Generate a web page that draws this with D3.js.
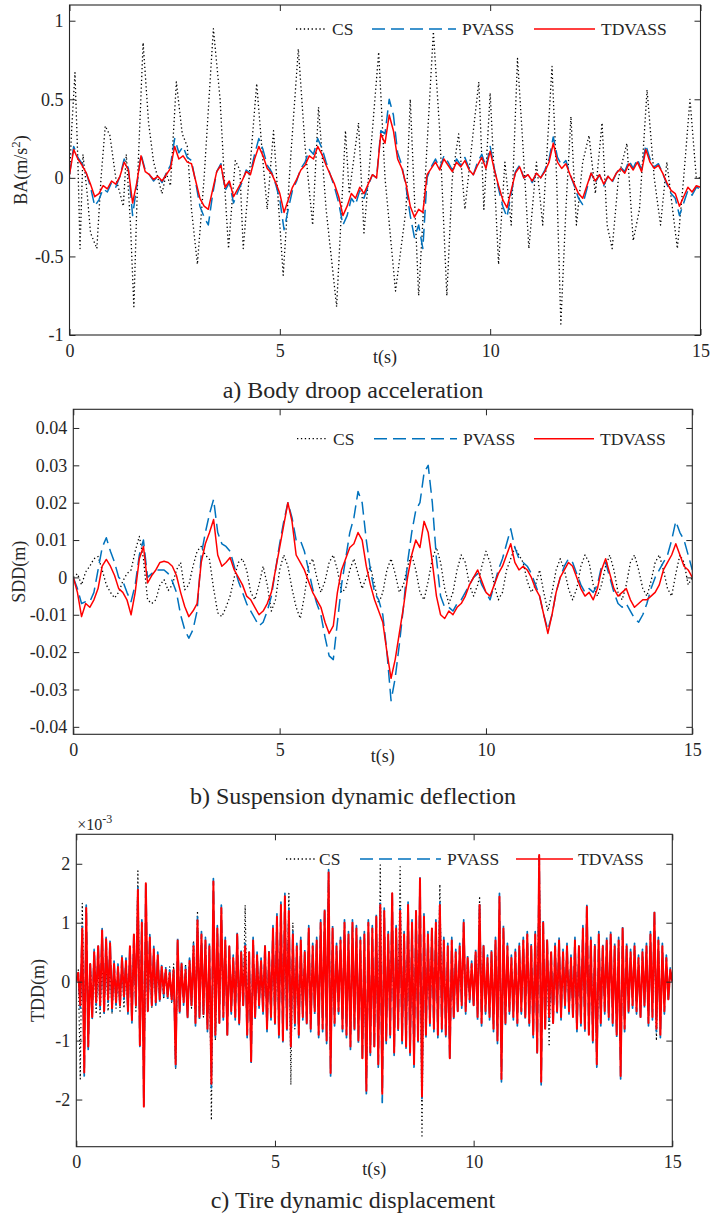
<!DOCTYPE html>
<html>
<head>
<meta charset="utf-8">
<title>Suspension responses</title>
<script src="https://d3js.org/d3.v7.min.js"></script>
<style>
	body { margin: 0; background: #fff; }
	text { font-family: "Liberation Serif", "Times New Roman", serif; fill: #262626; }
	.axis line { stroke: #262626; }
	.axis path { display: none; }
</style>
</head>
<body>
<svg id="chart" width="710" height="1220"></svg>
<script>
// ---------- panel a : body acceleration (m/s^2), TDVASS / PVASS sampled every 0.1 s ----------
var aTD = [0.02,0.18,0.12,0.08,0.03,-0.04,-0.12,-0.1,-0.05,-0.07,
	-0.02,-0.04,0.01,0.1,0.05,-0.16,-0.03,0.14,0.04,0.02,
	-0.01,0.01,-0.02,0.02,0.06,0.2,0.12,0.14,0.1,0.09,
	-0.02,-0.13,-0.18,-0.2,-0.08,0.04,0.08,-0.06,-0.02,-0.12,
	-0.07,-0.02,0.04,0.02,0.12,0.2,0.14,0.06,0.03,-0.03,
	-0.1,-0.22,-0.14,-0.06,-0.01,0.05,0.08,0.14,0.12,0.2,
	0.15,0.08,0.02,-0.04,-0.12,-0.24,-0.18,-0.1,-0.13,-0.06,
	-0.1,-0.04,0.02,0,0.28,0.22,0.4,0.3,0.12,0.06,
	-0.04,-0.18,-0.25,-0.2,-0.22,0.02,0.06,0.1,0.05,0.12,
	0.08,0.04,0.1,0.07,0.11,0.05,0.02,0.08,0.13,0.06,
	0.17,0.05,-0.05,-0.14,-0.19,-0.08,0.03,0.07,0,0.02,
	-0.02,0.03,0,0.04,0.1,0.22,0.1,0.06,0.09,0.02,
	-0.04,-0.1,-0.13,-0.05,0.03,-0.02,0.02,-0.04,0.01,-0.02,
	0.03,0.06,0.03,0.09,0.05,0.1,0.04,0.18,0.1,0.06,
	0.08,0.03,-0.03,-0.08,-0.1,-0.18,-0.12,-0.06,-0.09,-0.05,-0.06];
var aPV = [0.02,0.2,0.13,0.09,0.03,-0.06,-0.18,-0.14,-0.07,-0.09,
	-0.03,-0.06,0.01,0.12,0.06,-0.24,-0.05,0.15,0.05,0.02,
	-0.02,0.01,-0.03,0.03,0.08,0.25,0.16,0.2,0.13,0.11,
	-0.03,-0.18,-0.25,-0.3,-0.11,0.04,0.09,-0.08,-0.03,-0.16,
	-0.09,-0.03,0.05,0.03,0.15,0.25,0.18,0.08,0.04,-0.04,
	-0.14,-0.33,-0.2,-0.08,-0.02,0.06,0.1,0.18,0.15,0.25,
	0.19,0.1,0.02,-0.06,-0.16,-0.3,-0.24,-0.13,-0.17,-0.08,
	-0.13,-0.05,0.02,0,0.3,0.28,0.5,0.4,0.16,0.08,
	-0.06,-0.24,-0.38,-0.3,-0.45,0,0.07,0.12,0.06,0.14,
	0.1,0.05,0.12,0.08,0.13,0.06,0.02,0.1,0.15,0.07,
	0.2,0.06,-0.07,-0.18,-0.25,-0.1,0.04,0.08,0,0.02,
	-0.03,0.03,0,0.05,0.12,0.26,0.13,0.08,0.11,0.02,
	-0.05,-0.13,-0.17,-0.07,0.03,-0.03,0.02,-0.05,0.01,-0.03,
	0.03,0.07,0.04,0.11,0.06,0.12,0.05,0.21,0.12,0.07,
	0.09,0.03,-0.04,-0.1,-0.13,-0.24,-0.16,-0.08,-0.11,-0.06,-0.07];
// CS in panel a, read as turning points (time, value)
var aCST = [0,0.05,0.13,0.2,0.25,0.32,0.42,0.5,0.65,0.75,0.85,0.96,1.1,1.28,1.35,1.45,1.53,1.62,1.75,1.88,
	2.0,2.2,2.3,2.4,2.54,2.68,2.8,2.9,3.04,3.2,3.42,3.58,3.7,3.78,3.94,4.05,4.13,4.3,4.45,4.6,
	4.7,4.85,5.08,5.25,5.44,5.6,5.78,5.92,6.1,6.35,6.56,6.65,6.87,7.0,7.2,7.35,7.5,7.75,8.0,8.1,
	8.3,8.65,8.8,8.97,9.1,9.25,9.4,9.6,9.73,9.85,10.0,10.2,10.35,10.5,10.65,10.78,10.92,11.1,11.25,11.47,
	11.58,11.68,11.8,11.92,12.05,12.2,12.35,12.5,12.66,12.78,12.9,13.05,13.25,13.4,13.55,13.73,13.9,14.05,14.2,14.45,
	14.6,14.75,14.9,15];
var aCSV = [0,0.3,0.67,0.1,-0.45,0.15,-0.1,-0.35,-0.45,0,0.33,0.27,0,-0.18,0.15,-0.3,-0.82,0,0.86,0.35,
	0.1,-0.1,0.03,-0.05,0.61,0.28,0.2,-0.2,-0.55,0,0.95,0.5,-0.1,-0.45,0.11,0.05,-0.45,0.1,0.6,0.1,
	-0.2,0.3,-0.62,0.1,0.82,0.2,-0.3,0.45,-0.2,-0.82,0.3,-0.1,0.35,-0.35,0.3,0.8,0,-0.72,-0.2,0.5,
	-0.75,0.93,0.3,-0.75,0,0.28,-0.2,0.3,0.61,-0.2,0.54,-0.55,0.1,-0.3,0.76,0.2,-0.45,0.1,-0.3,0.71,
	0,-0.93,-0.2,0.39,-0.3,0.1,0.27,-0.1,0.35,-0.3,-0.45,0,0.22,-0.4,-0.2,0.56,0,-0.3,0.1,-0.45,
	0,0.5,0,0];

// ---------- panel b : suspension deflection (m), sampled every 0.1 s ----------
var bTD = [0,-0.004,-0.0105,-0.007,-0.008,-0.006,-0.003,0.003,0.0048,0.003,
	0.0005,-0.003,-0.004,-0.006,-0.01,-0.004,0.005,0.0083,-0.0015,0.0005,
	0.002,0.004,0.0043,0.004,0.003,0.0005,-0.004,-0.0078,-0.0105,-0.009,
	-0.007,0.004,0.009,0.012,0.0155,0.006,0.003,0.004,0.0053,0.002,
	0,-0.002,-0.005,-0.006,-0.008,-0.01,-0.009,-0.007,-0.004,0.002,
	0.008,0.014,0.02,0.015,0.006,0.004,0.002,-0.001,-0.004,-0.006,
	-0.008,-0.012,-0.015,-0.013,-0.004,0.002,0.005,0.008,0.009,0.012,
	0.01,0.003,-0.002,-0.006,-0.009,-0.012,-0.02,-0.027,-0.022,-0.015,
	-0.008,0,0.006,0.01,0.008,0.015,0.012,0.004,-0.005,-0.01,
	-0.011,-0.009,-0.01,-0.008,-0.007,-0.005,-0.002,0,0.002,-0.001,
	-0.004,-0.005,-0.002,0.001,0.003,0.006,0.009,0.004,0.002,0.003,
	0.002,0,-0.003,-0.005,-0.01,-0.015,-0.01,-0.004,0,0.002,
	0.004,0.003,0,-0.003,-0.005,-0.004,-0.006,-0.003,0.002,0.005,
	0.001,-0.003,-0.005,-0.004,-0.003,-0.006,-0.008,-0.007,-0.006,-0.006,
	-0.005,-0.004,-0.002,0.002,0.004,0.006,0.009,0.006,0.003,0.002,0];
var bPV = [0,-0.003,-0.007,-0.0065,-0.0065,-0.004,0.002,0.008,0.0106,0.007,
	0.004,0,-0.001,-0.004,-0.0065,-0.002,0.006,0.01,0,0.001,
	0.002,0.002,0.002,0.001,-0.001,-0.004,-0.01,-0.014,-0.0163,-0.014,
	-0.009,0.006,0.012,0.017,0.0209,0.012,0.009,0.0083,0.007,0.003,
	-0.001,-0.004,-0.007,-0.009,-0.011,-0.013,-0.012,-0.009,-0.005,0.002,
	0.009,0.015,0.02,0.016,0.01,0.01,0.007,0.002,-0.003,-0.007,
	-0.01,-0.016,-0.021,-0.022,-0.012,-0.002,0.005,0.012,0.016,0.023,
	0.02,0.01,0.002,-0.004,-0.006,-0.01,-0.02,-0.033,-0.027,-0.018,
	-0.008,0.004,0.012,0.018,0.02,0.028,0.03,0.02,0.005,-0.005,
	-0.008,-0.008,-0.009,-0.007,-0.006,-0.004,-0.002,0,0.001,-0.002,
	-0.004,-0.006,-0.002,0.002,0.005,0.009,0.013,0.008,0.005,0.004,
	0.003,0.001,-0.002,-0.005,-0.01,-0.014,-0.01,-0.004,0,0.003,
	0.005,0.004,0.001,-0.002,-0.004,-0.003,-0.004,-0.002,0.003,0.004,
	0,-0.004,-0.007,-0.008,-0.007,-0.009,-0.011,-0.012,-0.01,-0.007,
	-0.003,0,0.002,0.004,0.006,0.01,0.015,0.012,0.01,0.006,0.002];
var bCS = [0,0.001,-0.002,0.0015,0.003,0.005,0.0056,0.002,-0.002,-0.004,
	-0.0055,-0.004,-0.001,0.001,0.002,0.007,0.011,0.005,-0.006,-0.007,
	-0.006,-0.002,-0.0006,-0.0035,-0.002,0.002,0.004,-0.0033,-0.002,0.003,
	0.007,0.0083,0.006,0.0048,-0.003,-0.0095,-0.0105,-0.008,-0.005,0,
	0.004,0.005,0.002,-0.004,-0.006,-0.002,0.003,-0.002,-0.009,-0.006,
	0.002,0.006,0.003,-0.003,-0.008,-0.011,-0.005,0.003,0.005,0,
	-0.004,-0.001,0.004,0.006,0.002,-0.004,-0.003,0.002,0.005,0.001,
	-0.003,0,0.003,-0.002,-0.007,-0.004,0.002,0.005,0.001,-0.004,
	-0.002,0.003,0.006,0.002,-0.004,-0.006,-0.001,0.005,0.008,0.004,
	-0.003,-0.007,-0.004,0.002,0.006,0.004,-0.002,-0.005,-0.002,0.003,
	0.007,0.004,-0.002,-0.006,-0.004,0.002,0.005,0.008,0.006,0.004,
	-0.001,-0.004,-0.002,0.002,-0.004,-0.009,-0.004,0.002,0.005,0.002,
	-0.003,-0.006,-0.003,0.003,0.006,0.004,-0.002,-0.005,-0.002,0.003,
	0.006,0.002,-0.004,-0.006,-0.002,0.004,0.006,0.002,-0.003,-0.005,
	-0.001,0.004,0.006,0.002,-0.003,-0.005,0.001,0.006,0.004,-0.002,0];

// ---------- panel c : tire deflection (x1e-3 m), sampled every 0.05 s ----------
var cTD = [0,0.15,-0.4,0.9,-1.54,1.25,-1.1,0.3,-0.6,0.5,
	-0.35,0.6,-0.4,0.87,-0.5,0.72,-0.3,0.65,-0.45,0.3,
	-0.35,0.25,-0.4,0.4,-0.25,0.35,-0.5,0.6,-0.65,0.8,
	-0.4,1.56,-1.08,1.0,-2.12,1.67,-0.5,0.75,-0.4,0.55,
	-0.35,0.45,-0.3,0.25,-0.2,0.2,-0.25,0.15,-0.3,0.2,
	-1.4,0.7,-0.5,0.3,-0.35,0.2,-0.6,0.35,-0.4,0.6,
	-0.7,1.04,-0.6,0.8,-0.55,0.7,-0.8,0.6,-1.73,1.7,
	-0.9,0.9,-0.7,1.25,-0.6,0.7,-0.9,0.6,-0.5,0.4,
	-0.6,0.8,-0.7,0.5,-0.4,0.6,-0.9,0.5,-1.35,0.7,
	-0.6,0.45,-0.4,0.35,-0.5,0.6,-0.8,0.5,-0.6,0.9,
	-0.7,1.1,-0.9,1.3,-1.0,1.45,-0.8,1.2,-1.1,0.8,
	-0.7,0.6,-0.9,0.7,-0.6,0.5,-0.7,0.9,-0.8,0.6,
	-0.5,0.7,-0.9,1.0,-0.8,1.2,-1.0,1.85,-1.55,0.9,
	-0.7,0.6,-0.5,0.7,-0.8,1.0,-0.9,0.8,-1.1,1.0,
	-0.8,0.9,-1.0,0.7,-1.3,0.8,-1.85,1.0,-1.2,0.9,
	-1.1,1.1,-1.4,1.3,-1.9,1.2,-1.0,0.8,-0.9,1.5,
	-1.2,0.9,-0.8,1.2,-1.0,0.8,-1.1,1.3,-1.2,1.0,
	-1.4,1.2,-1.0,1.75,-1.95,1.1,-0.9,0.8,-0.7,0.9,
	-0.8,1.0,-0.9,1.3,-0.8,0.7,-0.9,0.6,-1.3,0.7,
	-0.6,0.5,-0.5,0.6,-0.4,1.0,-0.5,0.4,-0.3,0.3,
	-0.4,0.5,-0.6,1.3,-0.7,0.6,-0.5,0.4,-0.6,0.5,
	-0.8,0.7,-1.0,1.44,-1.65,0.9,-0.7,0.6,-0.5,0.4,
	-0.6,0.5,-0.7,0.6,-0.5,0.7,-0.6,0.8,-0.7,0.6,
	-0.9,0.8,-1.2,2.15,-1.7,1.0,-0.8,0.7,-0.6,0.5,
	-0.7,0.6,-0.5,0.7,-0.6,0.5,-0.4,0.6,-0.5,0.4,
	-0.6,0.7,-0.8,0.6,-0.7,0.9,-0.8,1.27,-0.9,0.7,
	-1.0,0.6,-1.4,0.8,-0.7,0.6,-0.5,0.7,-0.6,0.8,
	-0.7,0.6,-0.9,0.7,-1.6,0.9,-0.8,0.6,-0.5,0.5,
	-0.4,0.6,-0.5,0.4,-0.6,0.5,-0.4,0.6,-0.7,0.8,
	-0.6,1.17,-0.8,0.7,-0.9,0.6,-0.5,0.4,-0.3,0.2,0];
var cPV = [0,0.15,-0.45,0.95,-1.6,1.3,-1.15,0.35,-0.65,0.55,
	-0.4,0.65,-0.45,0.9,-0.55,0.75,-0.35,0.7,-0.5,0.35,
	-0.4,0.3,-0.45,0.45,-0.3,0.4,-0.55,0.65,-0.7,0.85,
	-0.45,1.6,-1.1,1.05,-2.1,1.7,-0.55,0.8,-0.45,0.6,
	-0.4,0.5,-0.35,0.3,-0.25,0.25,-0.3,0.2,-0.35,0.25,
	-1.45,0.75,-0.55,0.35,-0.4,0.25,-0.65,0.4,-0.45,0.65,
	-0.75,1.1,-0.65,0.85,-0.6,0.75,-0.85,0.65,-1.8,1.75,
	-0.95,0.95,-0.75,1.3,-0.65,0.75,-0.95,0.65,-0.55,0.45,
	-0.65,0.85,-0.75,0.55,-0.45,0.65,-0.95,0.55,-1.4,0.75,
	-0.65,0.5,-0.45,0.4,-0.55,0.65,-0.85,0.55,-0.65,0.95,
	-0.75,1.15,-0.95,1.35,-1.05,1.5,-0.85,1.25,-1.15,0.85,
	-0.75,0.65,-0.95,0.75,-0.65,0.55,-0.75,0.95,-0.85,0.65,
	-0.55,0.75,-0.95,1.05,-0.85,1.25,-1.05,1.9,-1.6,0.95,
	-0.75,0.65,-0.55,0.75,-0.85,1.05,-0.95,0.85,-1.15,1.05,
	-0.85,0.95,-1.05,0.75,-1.35,0.85,-1.9,1.05,-1.25,0.95,
	-1.15,1.15,-1.45,1.35,-2.05,1.25,-1.05,0.85,-0.95,1.55,
	-1.25,0.95,-0.85,1.25,-1.05,0.85,-1.15,1.35,-1.25,1.05,
	-1.45,1.25,-1.05,1.82,-2.0,1.15,-0.95,0.85,-0.75,0.95,
	-0.85,1.05,-0.95,1.35,-0.85,0.75,-0.95,0.65,-1.35,0.75,
	-0.65,0.55,-0.55,0.65,-0.45,1.05,-0.55,0.45,-0.35,0.35,
	-0.45,0.55,-0.65,1.35,-0.75,0.65,-0.55,0.45,-0.65,0.55,
	-0.85,0.75,-1.05,1.5,-1.7,0.95,-0.75,0.65,-0.55,0.45,
	-0.65,0.55,-0.75,0.65,-0.55,0.75,-0.65,0.85,-0.75,0.65,
	-0.95,0.85,-1.25,2.12,-1.75,1.05,-0.85,0.75,-0.65,0.55,
	-0.75,0.65,-0.55,0.75,-0.65,0.55,-0.45,0.65,-0.55,0.45,
	-0.65,0.75,-0.85,0.65,-0.75,0.95,-0.85,1.33,-0.95,0.75,
	-1.05,0.65,-1.45,0.85,-0.75,0.65,-0.55,0.75,-0.65,0.85,
	-0.75,0.65,-0.95,0.75,-1.65,0.95,-0.85,0.65,-0.55,0.55,
	-0.45,0.65,-0.55,0.45,-0.65,0.55,-0.45,0.65,-0.75,0.85,
	-0.65,1.22,-0.85,0.75,-0.95,0.65,-0.55,0.45,-0.35,0.25,0];
var cCS = [0,0.2,-1.65,1.33,-0.6,0.4,-0.5,0.3,-0.35,0.3,
	-0.55,0.3,-0.6,0.4,-0.55,0.3,-0.5,0.3,-0.55,0.25,
	-0.45,0.25,-0.5,0.3,-0.45,0.35,-0.5,0.5,-0.6,0.7,
	-0.5,1.88,-0.8,0.7,-1.45,0.7,-0.5,0.5,-0.45,0.4,
	-0.35,0.3,-0.3,0.25,-0.3,0.2,-0.3,0.25,-0.35,0.3,
	-1.48,0.5,-0.4,0.3,-0.35,0.3,-0.5,0.4,-0.45,0.7,
	-0.6,1.2,-0.5,0.6,-0.6,0.55,-0.7,0.5,-2.35,1.2,
	-1.0,0.6,-0.5,0.8,-0.5,0.5,-0.6,0.4,-0.35,0.35,
	-0.5,0.6,-0.5,0.4,-0.4,1.3,-0.6,0.4,-1.1,0.5,
	-0.45,0.35,-0.35,0.3,-0.45,0.45,-0.6,0.4,-0.45,0.6,
	-0.6,0.8,-0.7,1.0,-0.8,1.0,-0.7,1.5,-1.75,1.0,
	-0.8,0.5,-0.7,0.5,-0.5,0.4,-0.5,0.6,-0.6,0.45,
	-0.4,0.5,-0.6,0.7,-0.6,0.9,-0.7,1.75,-1.3,0.6,
	-0.5,0.45,-0.4,0.5,-0.6,0.7,-0.6,0.55,-0.8,0.7,
	-0.6,0.6,-0.7,0.5,-0.9,0.5,-1.7,0.7,-0.9,0.6,
	-0.8,0.8,-1.1,1.98,-1.5,0.8,-0.7,0.5,-0.6,1.0,
	-0.9,0.6,-0.5,1.95,-0.7,0.6,-0.8,1.0,-0.9,0.7,
	-1.0,0.9,-0.7,1.2,-2.65,0.8,-0.6,0.5,-0.5,0.6,
	-0.5,0.7,-0.6,1.65,-0.5,0.45,-0.6,0.4,-1.0,0.45,
	-0.4,0.35,-0.35,0.4,-0.3,0.7,-0.35,0.3,-0.25,0.25,
	-0.3,0.35,-0.4,1.45,-0.5,0.4,-0.35,0.3,-0.4,0.35,
	-0.6,0.5,-0.7,1.0,-1.3,0.6,-0.5,0.4,-0.35,0.3,
	-0.45,0.35,-0.5,0.4,-0.35,0.5,-0.4,0.55,-0.5,0.4,
	-0.6,0.55,-0.9,2.15,-1.3,0.7,-0.6,0.5,-1.1,0.4,
	-0.5,0.4,-0.35,0.5,-0.4,0.35,-0.3,0.4,-0.35,0.3,
	-0.45,0.5,-0.6,0.4,-0.5,0.6,-0.55,0.9,-0.6,0.5,
	-0.7,0.4,-1.2,0.5,-0.45,0.4,-0.35,0.5,-0.4,0.55,
	-0.5,0.4,-0.6,0.5,-1.2,0.6,-0.55,0.4,-0.35,0.35,
	-0.3,0.4,-0.35,0.3,-0.45,0.35,-0.3,0.4,-0.5,0.55,
	-0.45,0.9,-1.0,0.5,-0.6,0.4,-0.35,0.3,-0.25,0.2,0];

// ---------- ticks, labels ----------
var xTicks = [0, 5, 10, 15];
var aYTicks = [-1, -0.5, 0, 0.5, 1];
var aYLabels = ['-1', '-0.5', '0', '0.5', '1'];
var bYTicks = [-0.04, -0.03, -0.02, -0.01, 0, 0.01, 0.02, 0.03, 0.04];
var bYLabels = ['-0.04', '-0.03', '-0.02', '-0.01', '0', '0.01', '0.02', '0.03', '0.04'];
var cYTicks = [-2, -1, 0, 1, 2];
var cYLabels = ['-2', '-1', '0', '1', '2'];
var seriesNames = ['CS', 'PVASS', 'TDVASS'];

var styles = {
	CS:     {stroke: '#000000', width: 1.3, dash: '1.3,2.6'},
	PVASS:  {stroke: '#0072bd', width: 1.5, dash: '13,6'},
	TDVASS: {stroke: '#ff0000', width: 1.5, dash: null}
};

function even(arr) {
	var dt = 15 / (arr.length - 1);
	return arr.map(function(v, i){ return [i * dt, v]; });
}
function paired(ts, vs) {
	return ts.map(function(t, i){ return [t, vs[i]]; });
}

// legend items: [icon start, icon end, text x]
var legA = [[296, 326, 332], [372, 456, 462], [534, 595, 601]];
var legB = [[297, 327, 333], [374, 457, 463], [534, 594, 600]];
var legC = [[286, 315, 319], [360, 441, 447], [516, 573, 578]];

var panels = [
	{left: 69.5, right: 700.5, top: 5, bottom: 335, yDomain: [-1, 1.1],
	 yTicks: aYTicks, yLabels: aYLabels, ylabel: ['BA(m/s', '2', ')'], ylabelX: 27,
	 caption: 'a) Body droop acceleration', captionY: 398,
	 legend: legA, legendY: 29, widths: [1.3, 1.5, 1.5],
	 series: {CS: paired(aCST, aCSV), PVASS: even(aPV), TDVASS: even(aTD)}},
	{left: 73.3, right: 692.3, top: 409.3, bottom: 734.3, yDomain: [-0.042, 0.045],
	 yTicks: bYTicks, yLabels: bYLabels, ylabel: ['SDD(m)'], ylabelX: 25,
	 caption: 'b) Suspension dynamic deflection', captionY: 804,
	 legend: legB, legendY: 438.7, widths: [1.3, 1.5, 1.5],
	 series: {CS: even(bCS), PVASS: even(bPV), TDVASS: even(bTD)}},
	{left: 76.3, right: 672.3, top: 834.3, bottom: 1146.7, yDomain: [-2.8, 2.5],
	 yTicks: cYTicks, yLabels: cYLabels, ylabel: ['TDD(m)'], ylabelX: 44,
	 caption: 'c) Tire dynamic displacement', captionY: 1208,
	 legend: legC, legendY: 859, exponent: true, widths: [1.2, 1.7, 2.0],
	 series: {CS: even(cCS), PVASS: even(cPV), TDVASS: even(cTD)}}
];

var svg = d3.select('#chart');

panels.forEach(function(p, pi) {
	var x = d3.scaleLinear([0, 15], [p.left, p.right]);
	var y = d3.scaleLinear(p.yDomain, [p.bottom, p.top]);
	var g = svg.append('g');

	g.append('clipPath').attr('id', 'clip' + pi)
		.append('rect')
		.attr('x', p.left).attr('y', p.top)
		.attr('width', p.right - p.left).attr('height', p.bottom - p.top);

	// legend first (no box), data draws over it like in the original
	seriesNames.forEach(function(name, k) {
		var s = styles[name], it = p.legend[k];
		g.append('line')
			.attr('x1', it[0]).attr('x2', it[1])
			.attr('y1', p.legendY).attr('y2', p.legendY)
			.attr('stroke', s.stroke).attr('stroke-width', s.width)
			.attr('stroke-dasharray', s.dash);
		g.append('text')
			.attr('x', it[2]).attr('y', p.legendY + 6)
			.attr('font-size', 17.5)
			.text(name);
	});

	// curves: CS under, PVASS, then TDVASS on top
	var line = d3.line().x(function(d){ return x(d[0]); }).y(function(d){ return y(d[1]); });
	var lines = g.append('g').attr('clip-path', 'url(#clip' + pi + ')');
	seriesNames.forEach(function(name, k) {
		var s = styles[name];
		lines.append('path')
			.datum(p.series[name])
			.attr('fill', 'none')
			.attr('stroke', s.stroke)
			.attr('stroke-width', p.widths[k])
			.attr('stroke-dasharray', s.dash)
			.attr('stroke-linejoin', 'round')
			.attr('d', line);
	});

	// axes, ticks pointing inwards on all four sides
	g.append('g').attr('class', 'axis')
		.attr('transform', 'translate(0,' + p.bottom + ')')
		.call(d3.axisBottom(x).tickValues(xTicks).tickSize(-6).tickPadding(9).tickFormat(d3.format('d')))
		.selectAll('text').attr('font-size', 18).attr('font-family', null);
	g.append('g').attr('class', 'axis')
		.attr('transform', 'translate(0,' + p.top + ')')
		.call(d3.axisTop(x).tickValues(xTicks).tickSize(-6).tickFormat(''));
	g.append('g').attr('class', 'axis')
		.attr('transform', 'translate(' + p.left + ',0)')
		.call(d3.axisLeft(y).tickValues(p.yTicks).tickSize(-6).tickPadding(6)
			.tickFormat(function(d, i){ return p.yLabels[i]; }))
		.selectAll('text').attr('font-size', 18).attr('font-family', null);
	g.append('g').attr('class', 'axis')
		.attr('transform', 'translate(' + p.right + ',0)')
		.call(d3.axisRight(y).tickValues(p.yTicks).tickSize(-6).tickFormat(''));

	g.append('rect')
		.attr('x', p.left).attr('y', p.top)
		.attr('width', p.right - p.left).attr('height', p.bottom - p.top)
		.attr('fill', 'none').attr('stroke', '#262626').attr('stroke-width', 1.1);

	// axis titles
	g.append('text')
		.attr('x', (p.left + p.right) / 2)
		.attr('y', p.bottom + 28)
		.attr('text-anchor', 'middle')
		.attr('font-size', 18)
		.text('t(s)');

	var yl = g.append('text')
		.attr('transform', 'translate(' + p.ylabelX + ',' + ((p.top + p.bottom) / 2) + ') rotate(-90)')
		.attr('text-anchor', 'middle')
		.attr('font-size', 18);
	yl.append('tspan').text(p.ylabel[0]);
	if (p.ylabel.length > 1) {
		yl.append('tspan').attr('dy', -7).attr('font-size', 13).text(p.ylabel[1]);
		yl.append('tspan').attr('dy', 7).text(p.ylabel[2]);
	}

	if (p.exponent) {
		var ex = g.append('text').attr('x', p.left + 1).attr('y', p.top - 4).attr('font-size', 16);
		ex.append('tspan').text('\u00d710');
		ex.append('tspan').attr('dy', -7).attr('font-size', 12).text('-3');
	}

	// caption under the panel
	svg.append('text')
		.attr('x', 353).attr('y', p.captionY)
		.attr('text-anchor', 'middle')
		.attr('font-size', 24)
		.attr('fill', '#000')
		.text(p.caption);
});
</script>
</body>
</html>
